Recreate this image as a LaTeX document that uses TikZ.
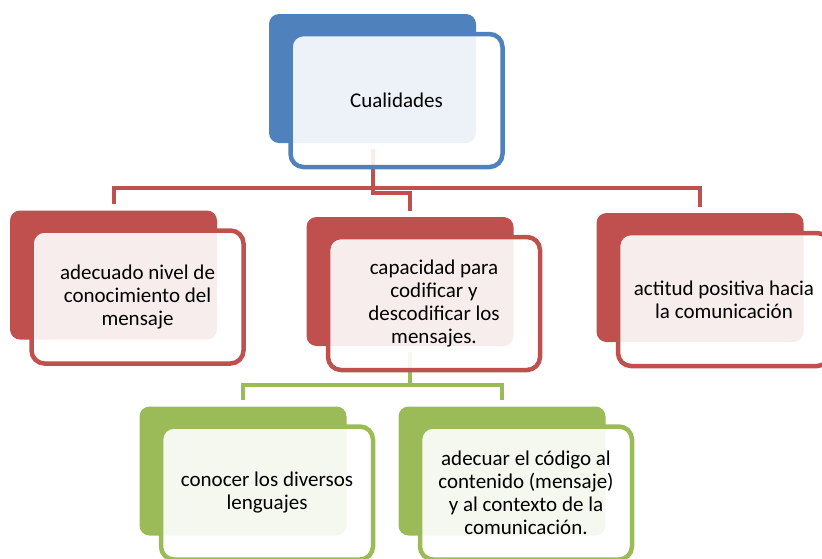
\documentclass[tikz,border=0pt]{standalone}
\usepackage{fontspec}
\setmainfont{Carlito}
\definecolor{qblue}{HTML}{4F81BD}
\definecolor{qred}{HTML}{C0504D}
\definecolor{qgreen}{HTML}{9BBB59}

\begin{document}
\begin{tikzpicture}[x=1pt,y=-1pt,
	back/.style={fill=#1,rounded corners=10pt,minimum width=207pt,minimum height=129pt,inner sep=0pt},
	front/.style={draw=#1,line width=4.5pt,fill=white,fill opacity=0.9,text opacity=1,
		rounded corners=13pt,minimum width=212pt,minimum height=133pt,inner sep=0pt,
		align=center,font=\fontsize{21}{23}\selectfont},
	link/.style={draw=#1,line width=4pt,shorten <=6pt,shorten >=6pt}]
	\useasboundingbox (0,0) rectangle (822,558);
	\node[back=qblue] (top) at (372.5,78.5) {};
	\node[back=qred] (niv) at (113.5,275) {};
	\node[back=qred] (cap) at (410,281.5) {};
	\node[back=qred] (act) at (700,277.5) {};
	\node[back=qgreen] (len) at (243,471) {};
	\node[back=qgreen] (cod) at (502,471) {};
	\draw[link=qred] (top.south) -- ++(0,45) -| (niv.north);
	\draw[link=qred] (top.south) -- ++(0,45) -| (act.north);
	\draw[link=qred] (top.south) -- ++(0,50) -| (cap.north);
	\draw[link=qgreen] (cap.south) -- ++(0,39) -| (len.north);
	\draw[link=qgreen] (cap.south) -- ++(0,39) -| (cod.north);
	\node[front=qblue] (topf) at ([shift={(24,22)}]top.center) {Cualidades};
	\node[front=qred] (nivf) at ([shift={(24,22)}]niv.center)
		{adecuado nivel de\\conocimiento del\\mensaje};
	\node[front=qred] (capf) at ([shift={(24,22)}]cap.center)
		{capacidad para\\codificar y\\descodificar los\\mensajes.};
	\node[front=qred] (actf) at ([shift={(24,22)}]act.center)
		{actitud positiva hacia\\la comunicación};
	\node[front=qgreen] (lenf) at ([shift={(24,22)}]len.center)
		{conocer los diversos\\lenguajes};
	\node[front=qgreen] (codf) at ([shift={(24,22)}]cod.center)
		{adecuar el código al\\contenido (mensaje)\\y al contexto de la\\comunicación.};
\end{tikzpicture}
\end{document}
